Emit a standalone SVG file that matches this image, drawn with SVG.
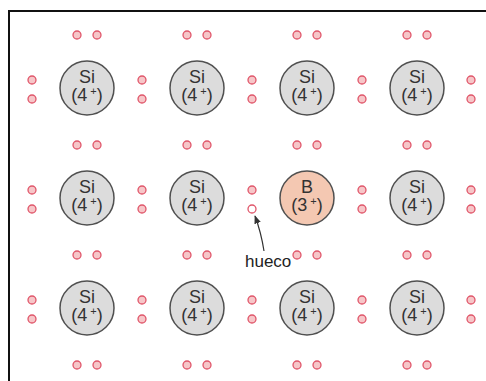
<svg xmlns="http://www.w3.org/2000/svg" width="486" height="381" viewBox="0 0 486 381">
<defs>
<style>
.atom{fill:#dcdcdc;stroke:#505050;stroke-width:1.5}
.boron{fill:#f4c8b2;stroke:#505050;stroke-width:1.5}
.e{fill:#f6c6c8;stroke:#e0566a;stroke-width:1.3}
.h{fill:#ffffff;stroke:#e0566a;stroke-width:1.3}
.t{font-family:"Liberation Sans",Arial,sans-serif;font-size:18px;fill:#333;text-anchor:middle}
.sup{font-size:11px}
.lbl{font-family:"Liberation Sans",Arial,sans-serif;font-size:17px;fill:#222}
</style>
<marker id="arr" viewBox="0 0 10 10" refX="9" refY="5" markerWidth="7" markerHeight="7" orient="auto-start-reverse">
<path d="M0,1 L10,5 L0,9 z" fill="#333"/>
</marker>
<g id="si">
<circle class="atom" r="27"/>
<text class="t" y="-5">Si</text>
<text class="t" y="13">(4<tspan class="sup" dy="-6"> +</tspan><tspan dy="6">)</tspan></text>
</g>
<circle id="d" class="e" r="4"/>
</defs>
<rect x="0" y="0" width="486" height="381" fill="#fff"/>
<path d="M9,381 V11 H486" fill="none" stroke="#111" stroke-width="2"/>
<g id="electrons">
<use href="#d" x="77" y="35"/><use href="#d" x="97" y="35"/>
<use href="#d" x="187" y="35"/><use href="#d" x="207" y="35"/>
<use href="#d" x="297" y="35"/><use href="#d" x="317" y="35"/>
<use href="#d" x="407" y="35"/><use href="#d" x="427" y="35"/>
<use href="#d" x="77" y="145"/><use href="#d" x="97" y="145"/>
<use href="#d" x="187" y="145"/><use href="#d" x="207" y="145"/>
<use href="#d" x="297" y="145"/><use href="#d" x="317" y="145"/>
<use href="#d" x="407" y="145"/><use href="#d" x="427" y="145"/>
<use href="#d" x="77" y="255"/><use href="#d" x="97" y="255"/>
<use href="#d" x="187" y="255"/><use href="#d" x="207" y="255"/>
<use href="#d" x="297" y="255"/><use href="#d" x="317" y="255"/>
<use href="#d" x="407" y="255"/><use href="#d" x="427" y="255"/>
<use href="#d" x="77" y="365"/><use href="#d" x="97" y="365"/>
<use href="#d" x="187" y="365"/><use href="#d" x="207" y="365"/>
<use href="#d" x="297" y="365"/><use href="#d" x="317" y="365"/>
<use href="#d" x="407" y="365"/><use href="#d" x="427" y="365"/>
<use href="#d" x="32" y="80"/><use href="#d" x="32" y="99"/>
<use href="#d" x="142" y="80"/><use href="#d" x="142" y="99"/>
<use href="#d" x="252" y="80"/><use href="#d" x="252" y="99"/>
<use href="#d" x="362" y="80"/><use href="#d" x="362" y="99"/>
<use href="#d" x="471" y="80"/><use href="#d" x="471" y="99"/>
<use href="#d" x="32" y="190"/><use href="#d" x="32" y="209"/>
<use href="#d" x="142" y="190"/><use href="#d" x="142" y="209"/>
<use href="#d" x="252" y="190"/>
<use href="#d" x="362" y="190"/><use href="#d" x="362" y="209"/>
<use href="#d" x="471" y="190"/><use href="#d" x="471" y="209"/>
<use href="#d" x="32" y="300"/><use href="#d" x="32" y="319"/>
<use href="#d" x="142" y="300"/><use href="#d" x="142" y="319"/>
<use href="#d" x="252" y="300"/><use href="#d" x="252" y="319"/>
<use href="#d" x="362" y="300"/><use href="#d" x="362" y="319"/>
<use href="#d" x="471" y="300"/><use href="#d" x="471" y="319"/>
</g>
<g id="hole"><circle class="h" cx="252" cy="209" r="4"/></g>
<g id="atom-1-1"><use href="#si" x="87" y="88"/></g>
<g id="atom-1-2"><use href="#si" x="197" y="88"/></g>
<g id="atom-1-3"><use href="#si" x="307" y="88"/></g>
<g id="atom-1-4"><use href="#si" x="417" y="88"/></g>
<g id="atom-2-1"><use href="#si" x="87" y="198"/></g>
<g id="atom-2-2"><use href="#si" x="197" y="198"/></g>
<g id="atom-2-3">
<circle class="boron" cx="307" cy="198" r="27"/>
<text class="t" x="307" y="193">B</text>
<text class="t" x="307" y="211">(3<tspan class="sup" dy="-6"> +</tspan><tspan dy="6">)</tspan></text>
</g>
<g id="atom-2-4"><use href="#si" x="417" y="198"/></g>
<g id="atom-3-1"><use href="#si" x="87" y="308"/></g>
<g id="atom-3-2"><use href="#si" x="197" y="308"/></g>
<g id="atom-3-3"><use href="#si" x="307" y="308"/></g>
<g id="atom-3-4"><use href="#si" x="417" y="308"/></g>
<g id="connectors">
<path d="M264,251 Q261,232 255,216" fill="none" stroke="#333" stroke-width="1.2" marker-end="url(#arr)"/>
</g>
<g id="label-hueco"><text class="lbl" x="245" y="267">hueco</text></g>
</svg>
